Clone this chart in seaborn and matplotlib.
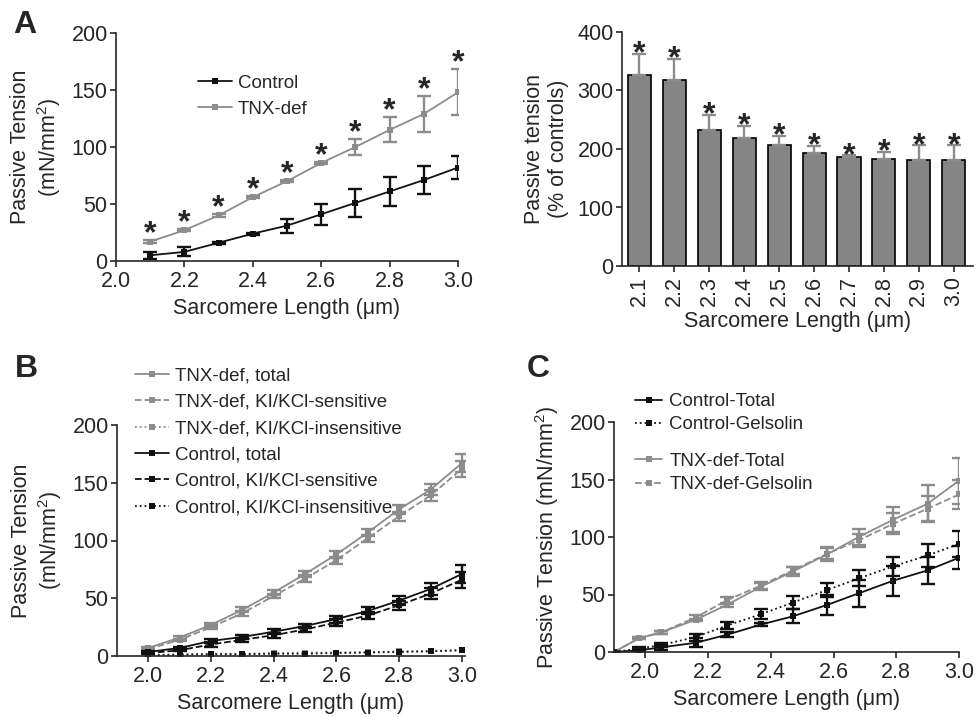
import numpy as np
import pandas as pd
import matplotlib
matplotlib.use('Agg')
import matplotlib.pyplot as plt
import seaborn as sns

# ---- data ----
sl_a = [2.1, 2.2, 2.3, 2.4, 2.5, 2.6, 2.7, 2.8, 2.9, 3.0]
ctrl_a = [5, 8, 16, 24, 31, 41, 51, 61, 71, 82]
ctrl_a_err = [3, 4, 1, 1, 6, 9, 12, 13, 12, 10]
tnx_a = [17, 27, 40, 56, 70, 86, 100, 115, 129, 148]
tnx_a_err = [1, 1, 1, 1, 1, 1, 7, 11, 16, 20]

sl_labels = ['2.1', '2.2', '2.3', '2.4', '2.5', '2.6', '2.7', '2.8', '2.9', '3.0']
pct = [326, 318, 233, 218, 206, 194, 186, 183, 182, 181]
pct_err = [37, 36, 25, 21, 16, 11, 3, 12, 24, 25]

sl_b = [2.0, 2.1, 2.2, 2.3, 2.4, 2.5, 2.6, 2.7, 2.8, 2.9, 3.0]
tnx_tot = [7, 16, 27, 40, 55, 71, 88, 107, 127, 144, 167]
tnx_tot_err = [1, 1, 2, 2, 2, 3, 3, 3, 4, 5, 8]
tnx_sens = [6, 14, 25, 37, 52, 67, 83, 102, 121, 139, 162]
tnx_sens_err = [1, 1, 2, 2, 2, 3, 3, 3, 4, 5, 7]
tnx_ins = [1, 1.5, 2, 2, 2.5, 3, 3, 3.5, 4, 4.5, 5]
ctrl_tot = [3.5, 7, 13, 16.5, 21, 26, 32, 39, 48, 58, 71]
ctrl_tot_err = [1, 1, 2, 2, 2, 2, 3, 3, 4, 5, 8]
ctrl_sens = [2.5, 5, 10, 14, 18, 23, 29, 35, 44, 54, 66]
ctrl_sens_err = [1, 1, 2, 2, 2, 2, 3, 3, 4, 5, 7]
ctrl_ins = [0.5, 1, 1.5, 1.5, 2, 2, 2.5, 3, 3.5, 4, 5]

sl_c = [1.9, 1.98, 2.05, 2.16, 2.26, 2.37, 2.47, 2.58, 2.68, 2.79, 2.90, 3.0]
c_ctrl_tot = [0, 1.5, 4, 8, 15, 24, 31, 41, 51, 62, 71, 82]
c_ctrl_tot_err = [0, 1, 2, 4, 2, 1, 6, 9, 12, 13, 12, 10]
c_ctrl_gel = [0, 3, 6, 13, 23, 33, 43, 54, 64, 74.5, 84, 94]
c_ctrl_gel_err = [0, 1, 2, 3, 3, 4, 6, 6, 7, 8, 10, 11]
c_tnx_tot = [0, 12, 17, 28, 41, 57, 70, 85, 100, 115, 129, 149]
c_tnx_tot_err = [0, 1, 1, 1, 2, 3, 4, 6, 7, 11, 16, 20]
c_tnx_gel = [0, 12, 17, 30, 45, 58, 71, 85.5, 97, 111.5, 124.6, 137]
c_tnx_gel_err = [0, 1, 1, 2, 3, 3, 3, 5, 6, 9, 11, 13]

GRAY = '#8c8c8c'
BLACK = '#111111'

sns.set_style('ticks')
plt.rcParams['font.family'] = ['Liberation Sans', 'DejaVu Sans']
plt.rcParams['mathtext.default'] = 'regular'
plt.rcParams['axes.linewidth'] = 1.2
plt.rcParams['xtick.major.width'] = 1.2
plt.rcParams['ytick.major.width'] = 1.2
plt.rcParams['xtick.major.size'] = 4.5
plt.rcParams['ytick.major.size'] = 4.5
plt.rcParams['xtick.major.pad'] = 3
plt.rcParams['ytick.major.pad'] = 1.5
plt.rcParams['xtick.labelsize'] = 15.5
plt.rcParams['ytick.labelsize'] = 15.5
plt.rcParams['axes.labelsize'] = 15.5

W, H = 977, 717
fig = plt.figure(figsize=(W / 100, H / 100), dpi=100)


def box(l, t, r, b):
    return fig.add_axes([l / W, 1 - b / H, (r - l) / W, (b - t) / H])


def series(ax, x, y, err, color, ls='-', label=None, ms=5, lw=1.3, every=None):
    sns.lineplot(x=x, y=y, ax=ax, color=color, linestyle=ls, marker='s', markersize=ms,
                 markeredgewidth=0, linewidth=lw, label=label, markevery=every)
    if err is not None:
        ax.errorbar(x, y, yerr=err, fmt='none', ecolor=color, elinewidth=1.7,
                    capsize=5, capthick=1.7)


def star(ax, x, y, dy=-4):
    ax.annotate('*', (x, y), xytext=(0, dy), textcoords='offset points',
                ha='center', va='baseline', fontsize=23, fontweight='bold')


# ---- A left ----
ax1 = box(116, 33, 458, 261)
series(ax1, sl_a, ctrl_a, ctrl_a_err, BLACK, label='Control')
series(ax1, sl_a, tnx_a, tnx_a_err, GRAY, label='TNX-def')
for x, y, e in zip(sl_a, tnx_a, tnx_a_err):
    star(ax1, x, y + e + 3)
ax1.set_xlim(2.0, 3.0)
ax1.set_ylim(0, 200)
ax1.set_xticks([2.0, 2.2, 2.4, 2.6, 2.8, 3.0])
ax1.set_yticks([0, 50, 100, 150, 200])
ax1.set_xlabel('Sarcomere Length (μm)', labelpad=4)
ax1.set_ylabel('Passive Tension\n(mN/mm$^2$)', labelpad=6)
ax1.legend(loc='upper left', bbox_to_anchor=(189 / W, 1 - 65 / H),
           bbox_transform=fig.transFigure, frameon=False, fontsize=13.5,
           handlelength=1.8, handletextpad=0.3, labelspacing=0.49, borderpad=0)
sns.despine(ax=ax1)

# ---- A right ----
ax2 = box(622, 32, 973, 266)
sns.barplot(x=sl_labels, y=pct, ax=ax2, color='#858585', edgecolor='black',
            linewidth=1.2, width=0.66, saturation=1)
ax2.errorbar(range(len(pct)), pct, yerr=[np.zeros(len(pct)), pct_err], fmt='none',
             ecolor=GRAY, elinewidth=1.7, capsize=5, capthick=1.7)
for i, (y, e) in enumerate(zip(pct, pct_err)):
    star(ax2, i, y + e, dy=-6)
ax2.set_xlim(-0.5, 9.55)
ax2.set_ylim(0, 400)
ax2.set_yticks([0, 100, 200, 300, 400])
ax2.tick_params(axis='x', rotation=90)
ax2.set_xlabel('Sarcomere Length (μm)', labelpad=3)
ax2.set_ylabel('Passive tension\n(% of controls)', labelpad=6)
sns.despine(ax=ax2)

# ---- B ----
ax3 = box(117, 425, 465, 656)
series(ax3, sl_b, tnx_tot, tnx_tot_err, GRAY, '-', 'TNX-def, total', ms=7)
series(ax3, sl_b, tnx_sens, tnx_sens_err, GRAY, '--', 'TNX-def, KI/KCl-sensitive', ms=7)
series(ax3, sl_b, tnx_ins, None, GRAY, ':', 'TNX-def, KI/KCl-insensitive', ms=7)
series(ax3, sl_b, ctrl_tot, ctrl_tot_err, BLACK, '-', 'Control, total', ms=7)
series(ax3, sl_b, ctrl_sens, ctrl_sens_err, BLACK, '--', 'Control, KI/KCl-sensitive', ms=7)
series(ax3, sl_b, ctrl_ins, None, BLACK, ':', 'Control, KI/KCl-insensitive', ms=7)
ax3.set_xlim(1.9, 3.01)
ax3.set_ylim(0, 200)
ax3.set_xticks([2.0, 2.2, 2.4, 2.6, 2.8, 3.0])
ax3.set_yticks([0, 50, 100, 150, 200])
ax3.set_xlabel('Sarcomere Length (μm)', labelpad=4)
ax3.set_ylabel('Passive Tension\n(mN/mm$^2$)', labelpad=6)
h, l = ax3.get_legend_handles_labels()
for hh in h:
    hh.set_markersize(5)
ax3.legend(h, l, loc='upper left', bbox_to_anchor=(126 / W, 1 - 358 / H),
           bbox_transform=fig.transFigure, frameon=False, fontsize=13.5,
           handlelength=1.8, handletextpad=0.3, labelspacing=0.49, borderpad=0)
sns.despine(ax=ax3)

# ---- C ----
ax4 = box(614, 422, 959, 652)
every = list(range(1, len(sl_c)))
series(ax4, sl_c, c_tnx_tot, c_tnx_tot_err, GRAY, '-', 'TNX-def-Total', ms=7, every=every)
series(ax4, sl_c, c_tnx_gel, c_tnx_gel_err, GRAY, '--', 'TNX-def-Gelsolin', ms=7, every=every)
series(ax4, sl_c, c_ctrl_tot, c_ctrl_tot_err, BLACK, '-', 'Control-Total', ms=7, every=every)
series(ax4, sl_c, c_ctrl_gel, c_ctrl_gel_err, BLACK, ':', 'Control-Gelsolin', ms=7, every=every)
ax4.set_xlim(1.9, 3.0)
ax4.set_ylim(0, 200)
ax4.set_xticks([2.0, 2.2, 2.4, 2.6, 2.8, 3.0])
ax4.set_yticks([0, 50, 100, 150, 200])
ax4.set_xlabel('Sarcomere Length (μm)', labelpad=4)
ax4.set_ylabel('Passive Tension (mN/mm$^2$)', labelpad=6)
h, l = ax4.get_legend_handles_labels()
for hh in h:
    hh.set_markersize(5)
    hh.set_markevery(None)
leg1 = ax4.legend(h[2:], l[2:], loc='upper left', bbox_to_anchor=(626 / W, 1 - 384 / H),
                  bbox_transform=fig.transFigure, frameon=False, fontsize=13.5,
                  handlelength=1.4, handletextpad=0.4, labelspacing=0.3, borderpad=0)
ax4.add_artist(leg1)
ax4.legend(h[:2], l[:2], loc='upper left', bbox_to_anchor=(626 / W, 1 - 443 / H),
           bbox_transform=fig.transFigure, frameon=False, fontsize=13.5,
           handlelength=1.4, handletextpad=0.4, labelspacing=0.35, borderpad=0)
sns.despine(ax=ax4)

# panel letters
for letter, (x, y) in zip('ABC', [(13, 10), (15, 354), (527, 354)]):
    fig.text(x / W, 1 - y / H, letter, fontsize=23, fontweight='bold', va='top', ha='left')

fig.savefig('out.png', dpi=100)
